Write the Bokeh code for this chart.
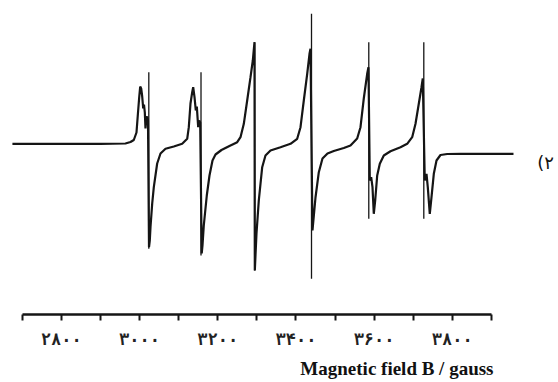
from bokeh.plotting import figure
from bokeh.models import Range1d, LinearAxis, FixedTicker, Label, Title
from bokeh.embed import file_html
from bokeh.resources import INLINE

# EPR spectrum trace (magnetic field in gauss, signal in arbitrary units)
field_g = [2675, 2798, 2900, 2964, 2977, 2985.4, 2992.3, 2995.6, 2999.2, 3001.8,
           3004.3, 3006.9, 3009.5, 3011.5, 3013.6, 3015.3, 3017.4, 3019.7, 3021.7, 3024.3,
           3026.3, 3028.1, 3032.5, 3036.6, 3045.2, 3053.7, 3066.5, 3087.7, 3109.2, 3122,
           3126.1, 3130.4, 3134.8, 3137.3, 3140.7, 3144, 3146.6, 3150.1, 3152.7, 3155.2,
           3159.1, 3161.1, 3164.4, 3172.1, 3179, 3186.7, 3194.4, 3209.7, 3232.7, 3249.9,
           3258.3, 3266.8, 3275.4, 3283.9, 3289.8, 3294.1, 3294.9, 3299.2, 3305.1, 3313.8,
           3322.2, 3335, 3360.6, 3386.2, 3403.3, 3411.8, 3420.2, 3428.9, 3434.8, 3437.3,
           3442.4, 3450.1, 3458.6, 3468, 3480.8, 3496.9, 3522.5, 3539.6, 3556.7, 3565.2,
           3573.6, 3582.3, 3585.6, 3589, 3592.5, 3595.9, 3599.2, 3602.8, 3607.9, 3614.6,
           3624.8, 3641.9, 3667.5, 3684.6, 3697.4, 3705.9, 3714.3, 3721.2, 3724.5, 3729.6,
           3734, 3737.3, 3742.4, 3746.8, 3752.7, 3759.6, 3769.8, 3787, 3821, 3956.5]
signal_au = [0, 0, 0, 0.3, 1.8, 3.8, 11.3, 28.3, 46.3, 57.3,
             55.3, 47.3, 35.3, 39.3, 31.3, 15.3, 25.3, 27.3, 23.3, -103.4,
             -96.7, -83.4, -59.7, -43.4, -19.7, -9.7, -5, -2.7, 0, 5,
             16.6, 40.3, 51.6, 56.6, 46.6, 33.3, 37.3, 16.6, 23.3, 21.3,
             -109.7, -101.7, -81.7, -51.7, -31.7, -16.7, -10.7, -6.2, -1.7, 1.6,
             6.6, 20, 43.3, 66.6, 83.3, 101.6, -126.7, -89.7, -56.7, -23.4,
             -11.7, -6.7, -3.4, 0, 5, 16.6, 43.3, 70, 90, 95,
             -86.7, -53.7, -28.4, -14.7, -9.7, -7.2, -4.2, -1.7, 5.3, 16.6,
             45.3, 70, 76.6, -36.7, -33.4, -43.4, -70, -56.7, -31.7, -20,
             -11.7, -7.4, -3.4, 0, 6.6, 20, 40, 56.6, 65.3, -36.7,
             -30, -43.4, -70, -53.4, -30, -16.7, -11.2, -10.2, -10, -10]

# narrow lines superimposed on the six hyperfine components
spike_field = [3023.8, 3157.3, 3294.5, 3439.9, 3586.4, 3727.1]
spike_top = [71.6, 71.6, 101.6, 130, 101.6, 101.6]
spike_bottom = [-105, -111.7, -126.7, -135, -75, -75]

tick_values = [2800, 3000, 3200, 3400, 3600, 3800]
tick_labels = ["۲۸۰۰", "۳۰۰۰", "۳۲۰۰", "۳۴۰۰", "۳۶۰۰", "۳۸۰۰"]
axis_bounds = (2700, 3900)
axis_title = "Magnetic field B / gauss"
curve_label = "(۲"

p = figure(width=558, height=382, output_backend="svg", toolbar_location=None,
           x_axis_location=None, y_axis_location=None,
           x_range=Range1d(2644.5, 4071.6), y_range=Range1d(-170.7, 143.3),
           min_border_left=0, min_border_right=0, min_border_top=0, min_border_bottom=68)
p.grid.visible = False
p.outline_line_color = None
p.background_fill_color = "white"

p.line(field_g, signal_au, line_color="#151515", line_width=2.2)
p.segment(x0=spike_field, y0=spike_bottom, x1=spike_field, y1=spike_top,
          line_color="#151515", line_width=1.3)

ax = LinearAxis(bounds=axis_bounds)
all_ticks = list(range(axis_bounds[0], axis_bounds[1] + 1, 100))
ax.ticker = FixedTicker(ticks=all_ticks, minor_ticks=[])
overrides = {t: "" for t in all_ticks}
for t, lab in zip(tick_values, tick_labels):
    overrides[t] = lab
ax.major_label_overrides = overrides
ax.axis_line_width = 2.5
ax.axis_line_color = "#151515"
ax.major_tick_line_width = 2
ax.major_tick_line_color = "#151515"
ax.major_tick_out = 6
ax.major_tick_in = 0
ax.major_label_standoff = 8
ax.major_label_text_font = "DejaVu Sans Mono"
ax.major_label_text_font_style = "bold"
ax.major_label_text_font_size = "17px"
ax.major_label_text_color = "#222222"
p.add_layout(ax, "below")

p.add_layout(Title(text=axis_title, align="right", offset=65, standoff=8,
                   text_font="Liberation Serif", text_font_style="bold",
                   text_font_size="19px", text_color="#111111"), "below")
p.add_layout(Label(x=4017, y=-18.7, text=curve_label, text_align="left",
                   text_baseline="middle", text_font="DejaVu Sans",
                   text_font_size="18px", text_color="#111111"))

open("out.html", "w").write(file_html(p, INLINE))
